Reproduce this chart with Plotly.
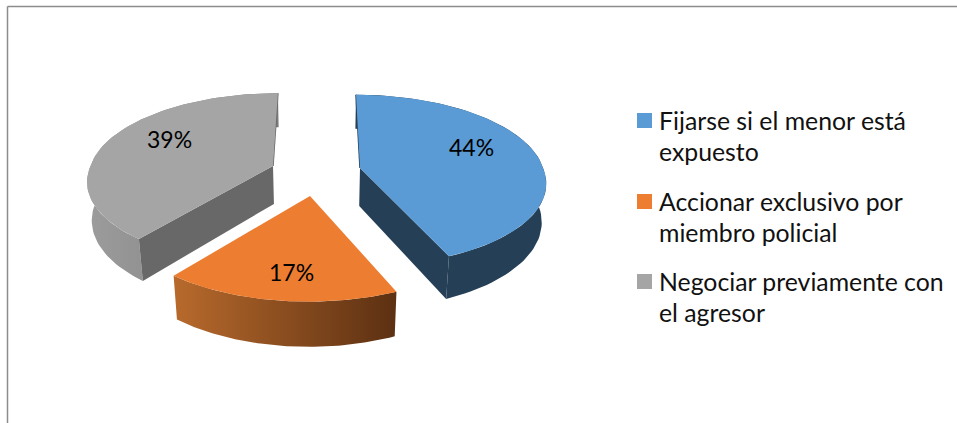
import numpy as np
import plotly.graph_objects as go

# ---- data ----
CATEGORIES = ["Fijarse si el menor está<br>expuesto",
              "Accionar exclusivo por<br>miembro policial",
              "Negociar previamente con<br>el agresor"]
VALUES = [43.6, 17.0, 39.4]
COLORS = ["#5B9BD5", "#ED7D31", "#A5A5A5"]

# ---- drawing style ----
WALL_LEFT = ["#243F56", "#B86A2C", "#9C9C9C"]
WALL_RIGHT = ["#243F56", "#5C3012", "#7A7A7A"]
CUT_WALL = ["#243F56", None, "#686868"]
SLICE_TIP = [(360, 168), (310, 196), (273, 166)]
LABEL_POS = [(471, 147), (291, 272), (169, 139)]
LEGEND_SWATCH_X = 644.5
LEGEND_TEXT_X = 657.5
LEGEND_Y = [120.5, 201.5, 281.5]
LINE_H = 31
FONT = "Lato"

# perspective model (pixel canvas)
VX, HORIZON = 321.0, -548.0
REF_T = 716.0
R_U, R_D = 183.0, 0.114
FRONT_GAIN = 0.05
EXTRUDE, CONVERGE = 38.0, 0.022


def project(u, d):
    t = REF_T / d
    return VX + u * t / REF_T, HORIZON + t


def drop(x, y):
    t = y - HORIZON
    return VX + (x - VX) * (1 - CONVERGE * t / 800), y + EXTRUDE * t / REF_T


def arc(tip, a0, a1, n=80):
    tx, ty = tip
    d0 = REF_T / (ty - HORIZON)
    u0 = (tx - VX) * d0
    th = np.radians(np.linspace(a0, a1, n))
    gain = 1 + FRONT_GAIN * np.clip(-np.cos(th), 0, 1)
    return project(u0 + R_U * gain * np.sin(th), d0 + R_D * gain * np.cos(th))


def poly(x, y, color=None, grad=None):
    kw = dict(x=x, y=y, mode="lines", fill="toself", line=dict(width=0),
              hoverinfo="skip", showlegend=False)
    if grad:
        kw["fillgradient"] = dict(type="horizontal",
                                  colorscale=[[0, grad[0]], [1, grad[1]]])
    else:
        kw["fillcolor"] = color
    return go.Scatter(**kw)


fig = go.Figure()
edges = np.concatenate([[0], np.cumsum(VALUES)]) / sum(VALUES) * 360
for i in [2, 0, 1]:
    a0, a1 = edges[i], edges[i + 1]
    tip = SLICE_TIP[i]
    ax, ay = arc(tip, a0, a1)
    bx, by = drop(ax, ay)
    # outer rim
    fig.add_trace(poly(np.r_[ax, bx[::-1]], np.r_[ay, by[::-1]],
                       grad=(WALL_LEFT[i], WALL_RIGHT[i])))
    # cut faces turned to the viewer
    if CUT_WALL[i]:
        k = -1 if i == 0 else 0
        ex, ey = ax[k], ay[k]
        fx, fy = drop(ex, ey)
        gx, gy = drop(tip[0], tip[1])
        fig.add_trace(poly([tip[0], ex, fx, gx], [tip[1], ey, fy, gy], CUT_WALL[i]))
        k2 = 0 if i == 0 else -1
        fig.add_trace(go.Scatter(x=[ax[k2], tip[0]], y=[ay[k2], tip[1]], mode="lines",
                                 line=dict(color=CUT_WALL[i], width=1.5),
                                 hoverinfo="skip", showlegend=False))
    # top face
    fig.add_trace(poly(np.r_[tip[0], ax], np.r_[tip[1], ay], COLORS[i]))

# legend swatches
fig.add_trace(go.Scatter(x=[LEGEND_SWATCH_X] * 3, y=LEGEND_Y, mode="markers",
                         marker=dict(symbol="square", size=15, color=COLORS, line=dict(width=0)),
                         hoverinfo="skip", showlegend=False))

annotations = []
for v, (x, y) in zip(VALUES, LABEL_POS):
    annotations.append(dict(x=x, y=y, text=f"{round(v)}%", showarrow=False, xanchor="center",
                            yanchor="middle", font=dict(family=FONT, size=23, color="#000000")))
for c, y in zip(CATEGORIES, LEGEND_Y):
    for n, line in enumerate(c.split("<br>")):
        annotations.append(dict(x=LEGEND_TEXT_X, y=y + n * LINE_H, text=line, showarrow=False,
                                xanchor="left", yanchor="middle", align="left", borderpad=0,
                                font=dict(family=FONT, size=24.8, color="#111111")))

shapes = [dict(type="line", x0=7.5, x1=7.5, y0=6.5, y1=423, line=dict(color="#8c8c8c", width=1.5)),
          dict(type="line", x0=7.5, x1=957, y0=6.5, y1=6.5, line=dict(color="#8c8c8c", width=1.5))]

fig.update_layout(width=957, height=423, margin=dict(l=0, r=0, t=0, b=0),
                  paper_bgcolor="white", plot_bgcolor="white",
                  xaxis=dict(range=[0, 957], visible=False, fixedrange=True),
                  yaxis=dict(range=[423, 0], visible=False, fixedrange=True),
                  annotations=annotations, shapes=shapes, showlegend=False)
fig.write_html("out.html", config={"displayModeBar": False},
               post_script="document.body.style.margin='0';document.body.style.overflow='hidden';")
